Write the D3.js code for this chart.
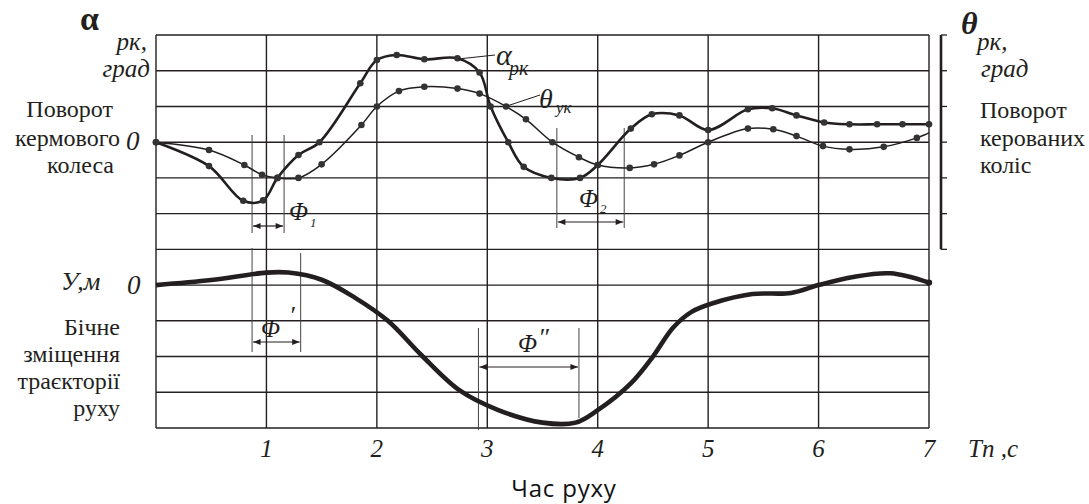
<!DOCTYPE html>
<html>
<head>
<meta charset="utf-8">
<script src="https://cdn.jsdelivr.net/npm/d3@7"></script>
<style>
  body { margin: 0; background: #fff; }
</style>
</head>
<body>
<svg id="chart" width="1089" height="504"></svg>
<script>
// time ticks, seconds
const timeTicks = [1, 2, 3, 4, 5, 6, 7];

// steering wheel angle alpha_rk (grid units, + up)
const alphaT = [0, 0.48, 0.79, 0.97, 1.10, 1.29, 1.48, 1.85, 2.0, 2.18, 2.43, 2.73, 2.93, 3.03, 3.19, 3.33, 3.58, 3.84, 4.0, 4.30, 4.49, 4.74, 5.0, 5.36, 5.58, 5.80, 6.05, 6.28, 6.53, 6.76, 7.0];
const alphaV = [0, -0.67, -1.64, -1.63, -1.0, -0.36, 0, 1.65, 2.3, 2.44, 2.32, 2.35, 1.95, 1.0, 0, -0.69, -1.0, -1.0, -0.64, 0.38, 0.78, 0.75, 0.34, 0.92, 0.95, 0.75, 0.55, 0.5, 0.5, 0.5, 0.5];

// steered wheels angle theta_uk
const thetaT = [0, 0.48, 0.80, 0.96, 1.10, 1.29, 1.50, 1.86, 2.0, 2.20, 2.43, 2.73, 2.93, 3.17, 3.35, 3.59, 3.83, 4.0, 4.29, 4.51, 4.74, 5.0, 5.36, 5.59, 5.80, 6.04, 6.28, 6.59, 6.89, 7.0];
const thetaV = [0, -0.22, -0.64, -0.91, -1.0, -1.0, -0.62, 0.48, 1.0, 1.43, 1.55, 1.5, 1.36, 1.0, 0.64, 0, -0.42, -0.64, -0.72, -0.62, -0.37, 0, 0.38, 0.36, 0.17, -0.11, -0.2, -0.13, 0.12, 0.26];

// lateral displacement Y
const yT = [0, 0.5, 1.0, 1.2, 1.5, 1.8, 2.1, 2.4, 2.75, 3.1, 3.5, 3.8, 4.0, 4.3, 4.5, 4.68, 4.85, 5.05, 5.4, 5.75, 6.0, 6.3, 6.65, 7.0];
const yV = [0, 0.14, 0.35, 0.35, 0.15, -0.35, -1.0, -1.95, -2.95, -3.5, -3.85, -3.85, -3.5, -2.75, -2.0, -1.2, -0.75, -0.5, -0.25, -0.22, 0, 0.22, 0.33, 0.07];

// phase-lag brackets: [t0, t1]
const phi1 = [0.87, 1.16];
const phiP = [0.87, 1.31];
const phi2 = [3.63, 4.24];
const phiPP = [2.92, 3.83];

const svg = d3.select("#chart");
const ink = "#231f20";
const serif = "'Liberation Serif', 'Times New Roman', Tinos, 'DejaVu Serif', serif";

const x = d3.scaleLinear().domain([0, 7]).range([156, 929]);
const row = d3.scaleLinear().domain([0, 11]).range([35, 428]);
const yUp = d3.scaleLinear().domain([3, -3]).range([row(0), row(6)]);
const yLow = d3.scaleLinear().domain([0, -4]).range([row(7), row(11)]);

// grid
const g = svg.append("g");
g.selectAll(".h").data(d3.range(0, 12)).enter().append("line")
  .attr("x1", x(0)).attr("x2", x(7))
  .attr("y1", d => row(d)).attr("y2", d => row(d))
  .attr("stroke", ink).attr("stroke-width", 1.4);
g.selectAll(".v").data([0].concat(timeTicks)).enter().append("line")
  .attr("x1", d => x(d)).attr("x2", d => x(d))
  .attr("y1", row(0)).attr("y2", row(11))
  .attr("stroke", ink).attr("stroke-width", 1.4);

// right bracket axis
svg.append("line").attr("x1", 941).attr("x2", 941).attr("y1", row(0)).attr("y2", row(6))
  .attr("stroke", ink).attr("stroke-width", 2.6);
svg.selectAll(".rt").data(d3.range(0, 7)).enter().append("line")
  .attr("x1", 941).attr("x2", 947).attr("y1", d => row(d)).attr("y2", d => row(d))
  .attr("stroke", ink).attr("stroke-width", 1.3);

// arrow markers
const defs = svg.append("defs");
["s", "e"].forEach(k => {
  defs.append("marker").attr("id", "arr-" + k)
    .attr("viewBox", "0 -4 10 8").attr("refX", 10).attr("refY", 0)
    .attr("markerWidth", 8).attr("markerHeight", 6).attr("markerUnits", "userSpaceOnUse")
    .attr("orient", k === "s" ? "auto-start-reverse" : "auto")
    .append("path").attr("d", "M0,-4L10,0L0,4Z").attr("fill", ink);
});

function bracket(t, yTop, yBot, yArrow, yTop2, yBot2) {
  const ann = svg.append("g").attr("stroke", "#444").attr("stroke-width", 1);
  ann.append("line").attr("x1", x(t[0])).attr("x2", x(t[0])).attr("y1", yTop).attr("y2", yBot);
  ann.append("line").attr("x1", x(t[1])).attr("x2", x(t[1])).attr("y1", yTop2).attr("y2", yBot2);
  ann.append("line").attr("x1", x(t[0]) + 1).attr("x2", x(t[1]) - 1).attr("y1", yArrow).attr("y2", yArrow)
    .attr("stroke", ink).attr("stroke-width", 1.2)
    .attr("marker-start", "url(#arr-s)").attr("marker-end", "url(#arr-e)");
}
bracket(phi1, 135, 233, 226, 135, 233);
bracket(phiP, 248, 352, 342, 253, 352);
bracket(phi2, 128, 228, 222, 128, 228);
bracket(phiPP, 328, 430, 367, 328, 418);

// curves
const curve = d3.curveCatmullRom.alpha(0.5);
const alphaPts = alphaT.map((t, i) => [t, alphaV[i]]);
const thetaPts = thetaT.map((t, i) => [t, thetaV[i]]);
const yPts = yT.map((t, i) => [t, yV[i]]);

const lineUp = d3.line().x(d => x(d[0])).y(d => yUp(d[1])).curve(curve);
const lineLow = d3.line().x(d => x(d[0])).y(d => yLow(d[1])).curve(curve);

svg.append("path").attr("d", lineUp(thetaPts)).attr("fill", "none").attr("stroke", ink).attr("stroke-width", 1.5);
svg.append("path").attr("d", lineUp(alphaPts)).attr("fill", "none").attr("stroke", ink).attr("stroke-width", 2.6);
svg.append("path").attr("d", lineLow(yPts)).attr("fill", "none").attr("stroke", ink)
  .attr("stroke-width", 4.6).attr("stroke-linejoin", "round");

svg.selectAll(".da").data(alphaPts).enter().append("circle")
  .attr("cx", d => x(d[0])).attr("cy", d => yUp(d[1])).attr("r", 3.3).attr("fill", "#333");
svg.selectAll(".dt").data(thetaPts.slice(0, -1)).enter().append("circle")
  .attr("cx", d => x(d[0])).attr("cy", d => yUp(d[1])).attr("r", 3.3).attr("fill", "#333");
svg.selectAll(".dy").data(yPts.slice(-1)).enter().append("circle")
  .attr("cx", d => x(d[0])).attr("cy", d => yLow(d[1])).attr("r", 3.2).attr("fill", ink);

// leader lines for curve labels
svg.append("line").attr("x1", 458).attr("y1", 59).attr("x2", 495).attr("y2", 55).attr("stroke", ink).attr("stroke-width", 1);
svg.append("line").attr("x1", 507).attr("y1", 106).attr("x2", 540).attr("y2", 95).attr("stroke", ink).attr("stroke-width", 1);

function txt(s, px, py, size, opts = {}) {
  const t = svg.append("text")
    .attr("x", px).attr("y", py)
    .attr("text-anchor", opts.anchor || "start")
    .style("font-family", serif)
    .style("font-size", size + "px")
    .style("font-style", opts.it ? "italic" : "normal")
    .style("font-weight", opts.bold ? "bold" : "normal")
    .style("fill", ink)
    .text(s);
  return t;
}

// x tick labels
timeTicks.forEach(d => txt(String(d), x(d), 457, 25, { it: true, anchor: "middle" }));
txt("Tn ,c", 968, 457, 25, { it: true });
svg.append("text").attr("x", 564).attr("y", 497).attr("text-anchor", "middle")
  .style("font-family", "'Open Sans', sans-serif").style("font-size", "24px")
  .style("letter-spacing", "0.8px").style("fill", "#111").text("Час руху");

// left upper labels
txt("α", 80, 30, 34, { bold: true });
txt("рк,", 147, 50, 25, { it: true, anchor: "end" });
txt("град", 150, 77, 25, { it: true, anchor: "end" });
txt("Поворот", 113, 117, 24, { anchor: "end" });
txt("кермового", 120, 146, 24, { anchor: "end" });
txt("колеса", 114, 173, 24, { anchor: "end" });
txt("0", 126, 150, 27, { it: true });

// right labels
txt("θ", 961, 34, 32, { it: true, bold: true });
txt("рк,", 977, 50, 25, { it: true });
txt("град", 981, 77, 25, { it: true });
txt("Поворот", 980, 118, 24);
txt("керованих", 980, 146, 24);
txt("коліс", 980, 173, 24);

// lower left labels
txt("У,м", 61, 290, 26, { it: true });
txt("0", 127, 294, 27, { it: true });
txt("Бічне", 120, 335, 24, { anchor: "end" });
txt("зміщення", 120, 362, 24, { anchor: "end" });
txt("траєкторії", 120, 389, 24, { anchor: "end" });
txt("руху", 120, 416, 24, { anchor: "end" });

// curve labels
txt("α", 496, 65, 30, { it: true });
txt("рк", 509, 75, 20, { it: true });
txt("θ", 539, 108, 28, { it: true });
txt("ук", 556, 113, 17, { it: true });

// phase labels
txt("Φ", 289, 220, 25, { it: true });
txt("1", 310, 227, 13, { it: true });
txt("Φ", 261, 337, 25, { it: true });
txt("′", 289, 324, 26, { it: true });
txt("Φ", 579, 207, 25, { it: true });
txt("2", 600, 213, 13, { it: true });
txt("Φ", 518, 352, 25, { it: true });
txt("″", 538, 346, 26, { it: true });
</script>
</body>
</html>
